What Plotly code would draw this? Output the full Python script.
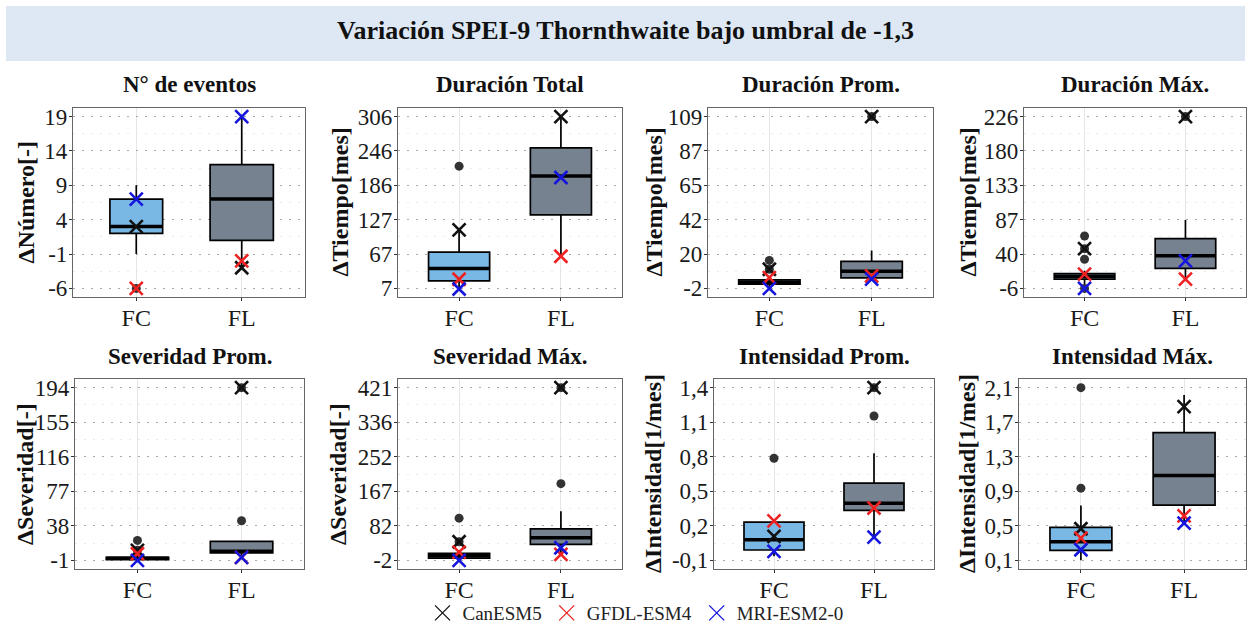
import numpy as np
import plotly.graph_objects as go

W, H = 1251, 627

# ---------------- data ----------------
categories = ["FC", "FL"]
panel_titles = ["N° de eventos", "Duración Total", "Duración Prom.", "Duración Máx.",
                "Severidad Prom.", "Severidad Máx.", "Intensidad Prom.", "Intensidad Máx."]
y_titles = ["ΔNúmero[-]", "ΔTiempo[mes]", "ΔTiempo[mes]", "ΔTiempo[mes]",
            "ΔSeveridad[-]", "ΔSeveridad[-]", "ΔIntensidad[1/mes]", "ΔIntensidad[1/mes]"]

tick_lo = [-6, 7, -2, -6, -1, -2, -0.1, 0.1]
tick_hi = [19, 306, 109, 226, 194, 421, 1.4, 2.1]
tick_labels = [
    ["-6", "-1", "4", "9", "14", "19"],
    ["7", "67", "127", "186", "246", "306"],
    ["-2", "20", "42", "65", "87", "109"],
    ["-6", "40", "87", "133", "180", "226"],
    ["-1", "38", "77", "116", "155", "194"],
    ["-2", "82", "167", "252", "336", "421"],
    ["-0,1", "0,2", "0,5", "0,8", "1,1", "1,4"],
    ["0,1", "0,5", "0,9", "1,3", "1,7", "2,1"],
]

# box statistics (FC)
fc_q1 = [2, 20, 0.8, 6.5, -0.2, 3.7, -0.01, 0.215]
fc_med = [3, 41.5, 2.0, 10.5, 1.3, 9.4, 0.079, 0.316]
fc_q3 = [7, 70, 3.5, 14, 2.4, 15, 0.232, 0.481]
fc_lo = [-1, 7, -2, 0, -1, -2, -0.065, 0.1]
fc_hi = [9, 109, 6, 18, 6.5, 18, 0.232, 0.736]
fc_out = [[-6], [219.7], [16.1, 10.4], [64.8, 47.7, 33.4, -6], [21.5, 10.3],
          [101.3, 43.5], [0.787], [2.1, 0.936]]

# box statistics (FL)
fl_q1 = [1, 135, 4.8, 21, 7.3, 37, 0.334, 0.74]
fl_med = [7, 202.5, 9.1, 38, 9.2, 53.3, 0.397, 1.083]
fl_q3 = [12, 251.4, 15.5, 61.2, 20.4, 75.3, 0.571, 1.58]
fl_lo = [-3, 63, 4, 6.5, 2.4, 12.6, 0.102, 0.531]
fl_hi = [19, 306, 22.5, 86.3, 21.4, 118.4, 0.831, 2.015]
fl_out = [[], [], [109], [226], [194, 43.7], [421, 185.9], [1.4, 1.154], []]

# models
models = ["CanESM5", "GFDL-ESM4", "MRI-ESM2-0"]
model_colors = ["#111111", "#ee2222", "#1515dd"]
can_fc = [3, 109, 10.4, 47.7, 10.3, 43.5, 0.108, 0.466]
can_fl = [-3, 306, 109, 226, 194, 421, 1.4, 1.88]
gfdl_fc = [-6, 23, 5.0, 13.3, 6.5, 18.3, 0.243, 0.358]
gfdl_fl = [-2, 63, 6.1, 6.5, 2.4, 12.6, 0.355, 0.616]
mri_fc = [7, 6, -2, -6, -1, -2, -0.022, 0.223]
mri_fl = [19, 200, 4, 31.2, 2.4, 29, 0.102, 0.531]
model_fc = [can_fc, gfdl_fc, mri_fc]
model_fl = [can_fl, gfdl_fl, mri_fl]

box_widths_fc = [0.5, 0.6, 0.6, 0.6, 0.6, 0.6, 0.6, 0.6]
box_widths_fl = [0.6] * 8
box_colors = ["#79b8e5", "#778290"]

# ---------------- layout geometry (pixels) ----------------
panel_left = [73, 398, 708, 1024, 75, 398, 714, 1019]
panel_right = [305, 622, 933, 1246, 304, 622, 934, 1246]
row_top = [108, 379]
row_bottom = [297, 569]
ytitle_x = [25, 339, 653, 967, 25, 338, 653, 967]
title_y = [84, 356]

SERIF = "Liberation Serif"

fig = go.Figure()

layout_axes = {}
annotations = []
for i in range(8):
    r = i // 4
    xs = "" if i == 0 else str(i + 1)
    xa, ya = "x" + xs, "y" + xs

    # boxes
    stats = [(fc_q1[i], fc_med[i], fc_q3[i], fc_lo[i], fc_hi[i], box_widths_fc[i]),
             (fl_q1[i], fl_med[i], fl_q3[i], fl_lo[i], fl_hi[i], box_widths_fl[i])]
    for j, (q1, med, q3, lo, hi, w) in enumerate(stats):
        fig.add_trace(go.Box(
            x=[j + 1], q1=[q1], median=[med], q3=[q3], lowerfence=[lo], upperfence=[hi],
            width=w, fillcolor=box_colors[j], line=dict(color="black", width=1.7),
            whiskerwidth=0, boxpoints=False, xaxis=xa, yaxis=ya,
            showlegend=False, hoverinfo="skip"))
        fig.add_trace(go.Scatter(
            x=[j + 1 - w / 2, j + 1 + w / 2], y=[med, med], mode="lines",
            line=dict(color="black", width=3.5), xaxis=xa, yaxis=ya,
            showlegend=False, hoverinfo="skip"))

    # outliers
    ox = [1] * len(fc_out[i]) + [2] * len(fl_out[i])
    oy = fc_out[i] + fl_out[i]
    fig.add_trace(go.Scatter(
        x=ox, y=oy, mode="markers", marker=dict(color="#333333", size=9),
        xaxis=xa, yaxis=ya, showlegend=False, hoverinfo="skip"))

    # model crosses
    for m in range(3):
        fig.add_trace(go.Scatter(
            x=[1, 2], y=[model_fc[m][i], model_fl[m][i]], mode="markers",
            marker=dict(symbol="x-thin", size=13,
                        line=dict(color=model_colors[m], width=2.6)),
            xaxis=xa, yaxis=ya, showlegend=False, name=models[m], hoverinfo="skip"))

    lo, hi = tick_lo[i], tick_hi[i]
    span = hi - lo
    tv = list(np.linspace(lo, hi, 6))
    minor_tv = [(tv[k] + tv[k + 1]) / 2 for k in range(5)]

    layout_axes["xaxis" + xs] = dict(
        domain=[panel_left[i] / W, panel_right[i] / W], anchor=ya,
        range=[0.4, 2.6], tickmode="array", tickvals=[1, 2], ticktext=categories,
        showgrid=True, gridcolor="#e6e6e6", gridwidth=1.2, zeroline=False,
        showline=True, mirror=True, linecolor="#666666", linewidth=1.2,
        ticks="outside", ticklen=3, tickcolor="#333333", ticklabelstandoff=-4,
        tickfont=dict(family=SERIF, size=24, color="#1a1a1a"))
    layout_axes["yaxis" + xs] = dict(
        domain=[1 - row_bottom[r] / H, 1 - row_top[r] / H], anchor=xa,
        range=[lo - 0.05 * span, hi + 0.05 * span],
        tickmode="array", tickvals=tv, ticktext=tick_labels[i],
        showgrid=True, gridcolor="#a8a8a8", gridwidth=1, griddash="2px,7px",
        minor=dict(tickmode="array", tickvals=minor_tv, showgrid=True,
                   gridcolor="#ebebeb", gridwidth=1, ticks=""),
        zeroline=False, showline=True, mirror=True, linecolor="#666666", linewidth=1.2,
        ticks="outside", ticklen=3, tickcolor="#333333", ticklabelstandoff=-3,
        tickfont=dict(family=SERIF, size=23, color="#1a1a1a"))

    # panel title
    annotations.append(dict(
        text="<b>" + panel_titles[i] + "</b>", x=(panel_left[i] + panel_right[i]) / 2 / W,
        y=1 - title_y[r] / H, xref="paper", yref="paper", showarrow=False,
        xanchor="center", yanchor="middle",
        font=dict(family=SERIF, size=23, color="#111111")))
    # y title
    annotations.append(dict(
        text="<b>" + y_titles[i] + "</b>", x=ytitle_x[i] / W,
        y=1 - (row_top[r] + row_bottom[r]) / 2 / H, xref="paper", yref="paper",
        showarrow=False, textangle=-90, xanchor="center", yanchor="middle",
        font=dict(family=SERIF, size=24, color="#111111")))

# legend entries
for m in range(3):
    fig.add_trace(go.Scatter(
        x=[None], y=[None], mode="markers", name=models[m],
        marker=dict(symbol="x-thin", size=15, line=dict(color=model_colors[m], width=1.3)),
        showlegend=True, xaxis="x", yaxis="y"))

# main title
annotations.append(dict(
    text="<b>Variación SPEI-9 Thornthwaite bajo umbral de -1,3</b>",
    x=0.5, y=1 - 31 / H, xref="paper", yref="paper", showarrow=False,
    xanchor="center", yanchor="middle", font=dict(family=SERIF, size=26, color="#111111")))

fig.update_layout(
    width=W, height=H, margin=dict(l=0, r=0, t=0, b=0, autoexpand=False),
    paper_bgcolor="white", plot_bgcolor="white", boxmode="overlay",
    shapes=[dict(type="rect", xref="paper", yref="paper",
                 x0=6 / W, x1=1245 / W, y0=1 - 61 / H, y1=1 - 6 / H,
                 fillcolor="#dde8f4", line=dict(width=0), layer="below")],
    annotations=annotations,
    legend=dict(orientation="h", x=0.508, xanchor="center", y=1 - 613 / H, yanchor="middle",
                font=dict(family=SERIF, size=19, color="#222222"), bgcolor="rgba(0,0,0,0)",
                itemwidth=30, tracegroupgap=0),
    **layout_axes)

fig.write_html("out.html", config={"displayModeBar": False},
               post_script="document.body.style.margin='0px';")
